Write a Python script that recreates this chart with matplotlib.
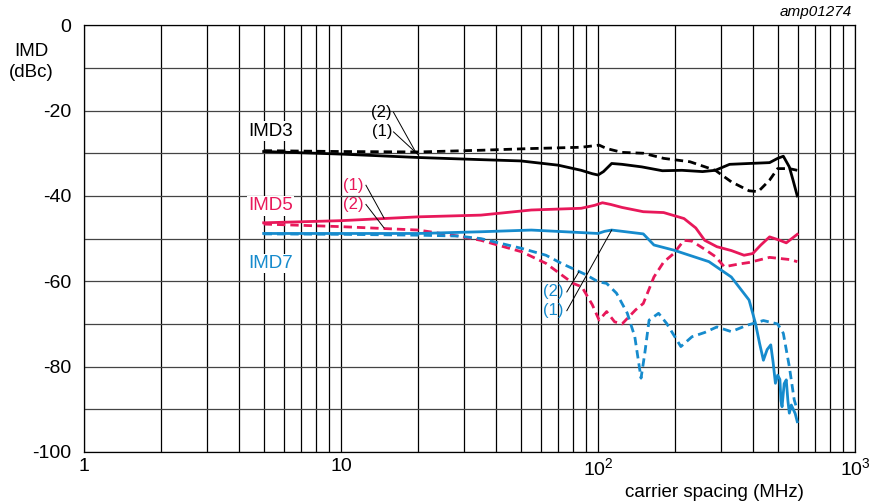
import numpy as np
import matplotlib
matplotlib.use("Agg")
import matplotlib.pyplot as plt
from matplotlib.ticker import FixedLocator, NullFormatter

plt.rcParams['font.family'] = ['Liberation Sans', 'DejaVu Sans']
plt.rcParams['mathtext.fontset'] = 'custom'
plt.rcParams['mathtext.rm'] = 'Liberation Sans'
plt.rcParams['axes.unicode_minus'] = False

# carrier spacing (MHz) / IMD (dBc)
f_imd3_1 = [5, 10, 20, 35, 50, 70, 86, 95, 100, 105, 113, 124, 148, 178, 212, 255, 286, 325, 387, 465, 500, 526, 555, 575, 596]
imd3_1   = [-29.6, -30.2, -31.0, -31.5, -31.8, -32.8, -34.0, -34.8, -35.1, -34.3, -32.4, -32.6, -33.2, -34.1, -34.0, -34.3, -34.0, -32.6, -32.4, -32.2, -31.2, -30.7, -33.2, -36.5, -40.0]

f_imd3_2 = [5, 10, 20, 35, 55, 86, 101, 108, 124, 150, 180, 228, 286, 330, 387, 420, 465, 500, 555, 596]
imd3_2   = [-29.4, -29.6, -29.7, -29.3, -28.9, -28.6, -28.1, -28.9, -29.8, -30.0, -31.2, -32.0, -34.0, -36.7, -38.8, -39.0, -36.3, -33.6, -33.6, -34.0]

f_imd5_1 = [5, 10, 20, 35, 55, 86, 97, 104, 112, 124, 150, 180, 216, 240, 260, 290, 330, 370, 400, 430, 465, 510, 540, 596]
imd5_1   = [-46.3, -45.8, -44.9, -44.5, -43.3, -42.9, -42.2, -41.6, -42.0, -42.7, -43.7, -43.9, -45.3, -47.5, -50.4, -51.9, -52.8, -53.9, -53.5, -51.5, -49.6, -50.4, -51.0, -49.0]

f_imd5_2 = [5, 10, 20, 28.5, 35, 50.5, 62.7, 80, 86.5, 95, 101, 108, 116, 124, 140, 150, 165, 180, 197, 216, 232, 260, 286, 310, 350, 387, 465, 555, 596]
imd5_2   = [-46.6, -47.2, -48.0, -49.4, -50.4, -53.1, -55.8, -60.5, -61.3, -65.5, -69.1, -67.1, -69.5, -70.0, -66.7, -65.2, -59.0, -55.5, -53.5, -50.4, -50.6, -52.5, -54.2, -56.6, -56.0, -55.6, -54.4, -54.9, -55.4]

f_imd7_1 = [5, 10, 20, 35, 55, 86.5, 100, 106, 113, 150, 165, 197, 270, 330, 387, 410, 425, 440, 455, 470, 480, 490, 500, 510, 515, 520, 530, 540, 548, 555, 565, 575, 585, 596]
imd7_1   = [-48.8, -48.8, -48.8, -48.4, -48.0, -48.6, -48.8, -48.3, -48.0, -48.9, -51.5, -52.7, -55.4, -59.0, -64.4, -69.9, -74.5, -78.5, -76.0, -74.9, -79.0, -83.9, -82.0, -83.0, -88.0, -89.4, -84.0, -83.1, -88.0, -90.9, -89.0, -90.0, -91.0, -92.9]

f_imd7_2 = [5, 10, 20, 28.5, 35, 50.5, 62.7, 72, 85, 90, 100, 108, 118, 130, 139, 147, 152, 158, 172, 185, 210, 232, 260, 290, 330, 380, 440, 500, 526, 555, 580, 596]
imd7_2   = [-48.9, -49.0, -49.2, -49.4, -50.0, -52.3, -53.9, -55.8, -57.8, -58.5, -60.1, -60.5, -62.8, -67.5, -73.0, -82.7, -76.9, -69.1, -67.5, -69.9, -75.3, -73.0, -72.0, -70.7, -71.8, -70.3, -69.2, -70.0, -72.2, -80.0, -87.8, -90.2]

c_red = '#e8185a'
c_blue = '#168bcd'
dash = (0, (3.0, 1.8))

fig = plt.figure(figsize=(8.7, 5.04), dpi=100)
ax = fig.add_axes([0.0966, 0.1032, 0.8862, 0.8468])

ax.set_xscale('log')
ax.set_xlim(1, 1000)
ax.set_ylim(-100, 0)

# grid: every decade subdivision and every 10 dB
minors = [m * 10**d for d in range(0, 3) for m in range(2, 10)]
ax.xaxis.set_major_locator(FixedLocator([1, 10, 100, 1000]))
ax.xaxis.set_minor_locator(FixedLocator(minors))
ax.xaxis.set_minor_formatter(NullFormatter())
ax.set_xticklabels(['1', '10', r'$\mathregular{10^2}$', r'$\mathregular{10^3}$'])
ax.set_yticks([0, -20, -40, -60, -80, -100])
ax.set_yticks(np.arange(-90, 0, 20), minor=True)
ax.grid(True, which='major', axis='x', color='black', lw=0.9)
ax.grid(True, which='minor', axis='x', color='black', lw=0.9)
ax.grid(True, which='both', axis='y', color='#444444', lw=0.9)
ax.tick_params(which='both', length=0, labelsize=14, pad=9)
ax.tick_params(axis='x', pad=4)
for s in ax.spines.values():
    s.set_linewidth(0.9)

lw = 2.0
ax.plot(f_imd3_2, imd3_2, color='black', lw=lw, ls=dash)
ax.plot(f_imd3_1, imd3_1, color='black', lw=lw)
ax.plot(f_imd5_2, imd5_2, color=c_red, lw=lw, ls=dash)
ax.plot(f_imd5_1, imd5_1, color=c_red, lw=lw)
ax.plot(f_imd7_2, imd7_2, color=c_blue, lw=lw, ls=dash)
ax.plot(f_imd7_1, imd7_1, color=c_blue, lw=lw)

# series labels
box = dict(facecolor='white', edgecolor='none', pad=1)
ax.text(4.35, -24.8, 'IMD3', color='black', fontsize=13.5, ha='left', va='center', bbox=box)
ax.text(4.35, -42.3, 'IMD5', color=c_red, fontsize=13.5, ha='left', va='center', bbox=box)
ax.text(4.35, -55.8, 'IMD7', color=c_blue, fontsize=13.5, ha='left', va='center', bbox=box)

# (1)/(2) leader lines
def callout(txt, col, xt, yt, xe, ye, xs):
    ax.text(xt, yt, txt, color=col, fontsize=12, ha='right', va='center')
    ax.plot([xs, xe], [yt, ye], color='black', lw=0.7)

callout('(2)', 'black', 15.8, -20.4, 19.5, -29.7, 16.0)
callout('(1)', 'black', 15.8, -25.0, 20.0, -30.4, 16.0)
callout('(1)', c_red, 12.2, -37.5, 14.7, -45.2, 12.5)
callout('(2)', c_red, 12.2, -42.0, 14.7, -47.5, 12.5)
callout('(2)', c_blue, 73.5, -62.5, 84.2, -57.8, 75.6)
callout('(1)', c_blue, 73.5, -66.9, 113.0, -48.0, 75.6)

ax.set_xlabel('carrier spacing (MHz)', fontsize=13.5)
ax.xaxis.set_label_coords(0.818, -0.075)
fig.text(0.036, 0.877, 'IMD\n(dBc)', fontsize=13.5, ha='center', va='center', linespacing=1.25)
fig.text(0.979, 0.976, 'amp01274', fontsize=11, style='italic', ha='right', va='center')

fig.savefig('out.png', dpi=100)
